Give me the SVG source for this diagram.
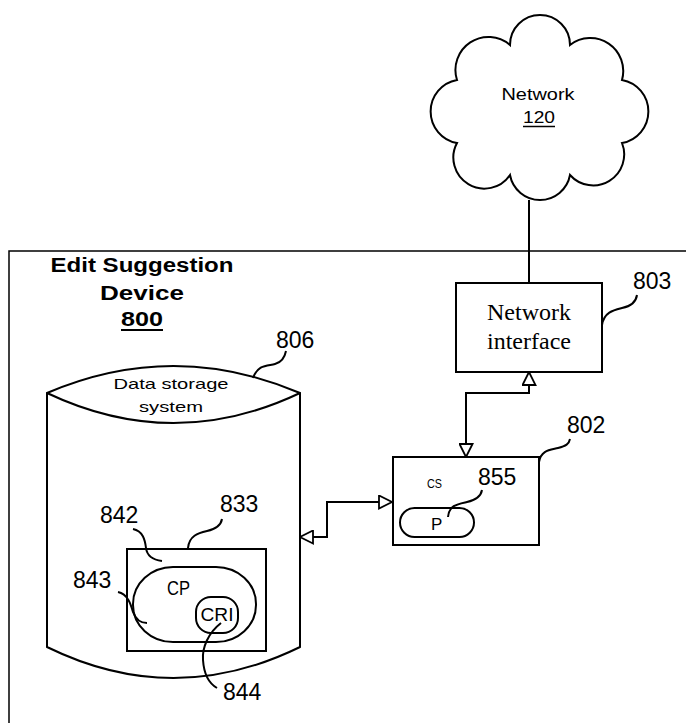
<svg xmlns="http://www.w3.org/2000/svg" width="686" height="723" viewBox="0 0 686 723">
<defs>
<style>
.ln{fill:none;stroke:#000;stroke-width:2}
.thin{fill:none;stroke:#000;stroke-width:1.5}
.shape{fill:#fff;stroke:#000;stroke-width:2}
.sans{font-family:"Liberation Sans",Arial,sans-serif;fill:#000}
.serif{font-family:"Liberation Serif","Times New Roman",serif;fill:#000}
.num{font-family:"Liberation Sans",Arial,sans-serif;font-size:23px;fill:#000}
</style>
<marker id="tri" viewBox="0 0 15 15" refX="14" refY="7.5" markerWidth="15" markerHeight="15" markerUnits="userSpaceOnUse" orient="auto-start-reverse">
<path d="M1,1 L14,7.5 L1,14 Z" fill="#fff" stroke="#000" stroke-width="1.8"/>
</marker>
</defs>
<rect width="686" height="723" fill="#fff"/>

<g id="device-800">
<path class="thin" d="M9,723 V251 H686"/>
<text class="sans" x="142" y="272" font-size="20" font-weight="bold" text-anchor="middle" textLength="183" lengthAdjust="spacingAndGlyphs">Edit Suggestion</text>
<text class="sans" x="142" y="300" font-size="20" font-weight="bold" text-anchor="middle" textLength="84" lengthAdjust="spacingAndGlyphs">Device</text>
<text class="sans" x="142" y="326" font-size="20" font-weight="bold" text-anchor="middle" textLength="42" lengthAdjust="spacingAndGlyphs">800</text>
<line x1="121" y1="330" x2="163" y2="330" stroke="#000" stroke-width="2"/>
</g>

<g id="network-120">
<path class="shape" d="M510,45 A30,30 0 1 1 570,45 A33,33 0 0 1 622,80 A32,32 0 0 1 622,143 A31,31 0 0 1 570,175 A30.5,30.5 0 0 1 510,175 A31,31 0 0 1 457,143 A32,32 0 0 1 457,80 A33,33 0 0 1 510,45 Z"/>
<text class="sans" x="538" y="100" font-size="17" text-anchor="middle" textLength="73" lengthAdjust="spacingAndGlyphs">Network</text>
<text class="sans" x="539" y="123" font-size="17" text-anchor="middle" textLength="32" lengthAdjust="spacingAndGlyphs">120</text>
<line x1="523" y1="126.5" x2="555" y2="126.5" stroke="#000" stroke-width="1.5"/>
</g>

<g id="network-interface-803">
<rect class="shape" x="456" y="283" width="146" height="89"/>
<text class="serif" x="529" y="320" font-size="24" text-anchor="middle">Network</text>
<text class="serif" x="529" y="349" font-size="24" text-anchor="middle">interface</text>
<text class="num" x="633" y="289">803</text>
<path class="ln" d="M602,325 C604,312 614,310 622,308 C632,306 636,302 637,295"/>
</g>

<g id="data-storage-806">
<path class="shape" d="M47,393 V647 Q173.5,709 300,647 V393 Q173.5,339 47,393 Z"/>
<path class="ln" d="M47,393 Q173.5,453 300,393"/>
<text class="sans" x="171" y="389" font-size="15" text-anchor="middle" textLength="115" lengthAdjust="spacingAndGlyphs">Data storage</text>
<text class="sans" x="171" y="412" font-size="15" text-anchor="middle" textLength="64" lengthAdjust="spacingAndGlyphs">system</text>
<text class="num" x="276" y="348">806</text>
<path class="ln" d="M253,378 C258,364 268,366 275,364 C283,362 285,356 286,351"/>
</g>

<g id="box-833">
<rect class="shape" x="127" y="549" width="139" height="102"/>
<text class="num" x="220" y="512">833</text>
<path class="ln" d="M188,548 C189,536 198,533 207,531 C216,529 221,525 222,519"/>
</g>

<g id="cp-843">
<rect class="shape" x="133" y="567" width="123" height="75" rx="40" ry="37"/>
<text class="sans" x="167" y="595" font-size="20" textLength="23" lengthAdjust="spacingAndGlyphs">CP</text>
<text class="num" x="73" y="588">843</text>
<path class="ln" d="M118,592 C128,594 131,605 133,612 C136,620 142,623 147,623"/>
<text class="num" x="100" y="523">842</text>
<path class="ln" d="M133,529 C143,531 145,540 146,548 C147,556 154,560 162,561"/>
</g>

<g id="cri-844">
<rect class="shape" x="196" y="597" width="42" height="36" rx="15" ry="15"/>
<text class="sans" x="217" y="621" font-size="19" text-anchor="middle" textLength="33" lengthAdjust="spacingAndGlyphs">CRI</text>
<text class="num" x="223" y="700">844</text>
<path class="ln" d="M221,623 C208,633 202,648 203,660 C204,675 210,684 217,688"/>
</g>

<g id="cs-802">
<rect class="shape" x="393" y="457" width="146" height="88"/>
<text class="sans" x="427" y="488" font-size="13" textLength="15" lengthAdjust="spacingAndGlyphs">CS</text>
<text class="num" x="567" y="433">802</text>
<path class="ln" d="M539,462 C541,450 550,450 558,448 C566,446 569,444 570,439"/>
</g>

<g id="p-855">
<rect class="shape" x="400" y="508" width="74" height="29" rx="14.5" ry="14.5"/>
<text class="sans" x="431" y="530" font-size="17">P</text>
<text class="num" x="478" y="485">855</text>
<path class="ln" d="M448,517 C449,505 458,504 467,502 C476,500 481,496 482,490"/>
</g>

<g id="connectors">
<line class="ln" x1="529" y1="200" x2="529" y2="283"/>
<path class="ln" d="M529,372 V393 H466 V457" marker-start="url(#tri)" marker-end="url(#tri)"/>
<path class="ln" d="M392,502 H327 V537 H300" marker-start="url(#tri)" marker-end="url(#tri)"/>
</g>
</svg>
